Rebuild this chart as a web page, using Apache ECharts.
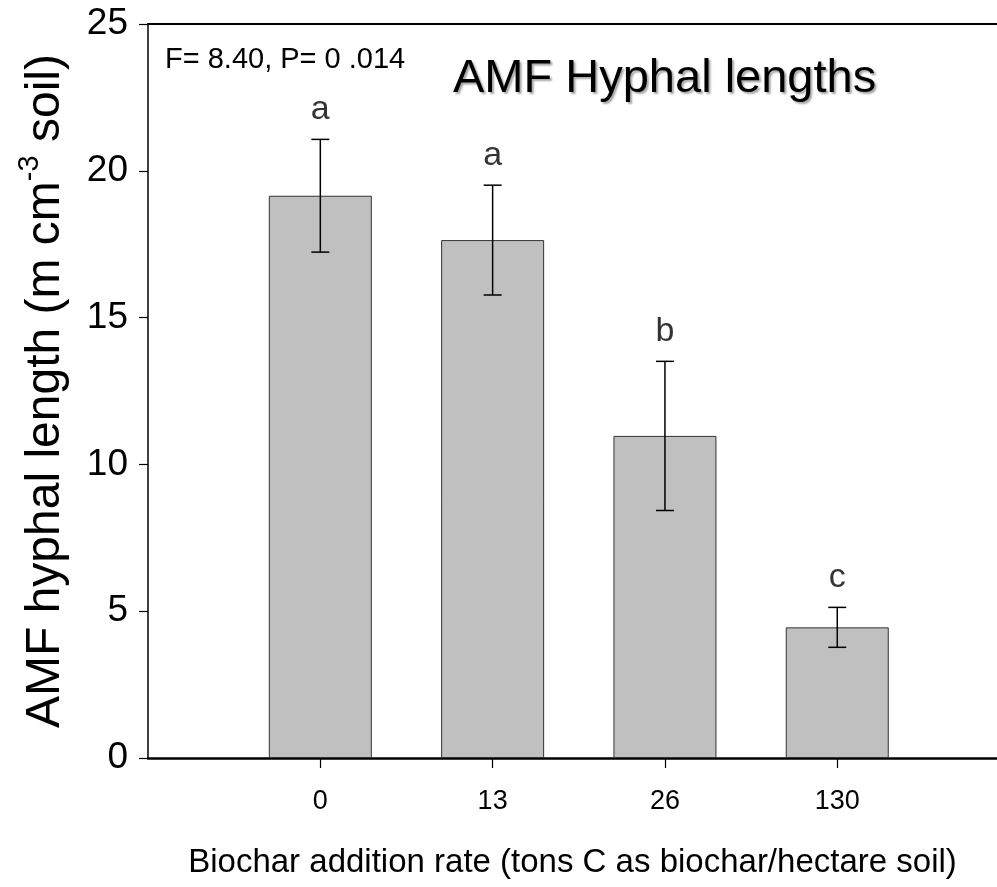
<!DOCTYPE html>
<html><head><meta charset="utf-8">
<script src="https://cdn.jsdelivr.net/npm/echarts@6/dist/echarts.min.js"></script>
<style>html,body{margin:0;padding:0;background:#fff}#c{width:997px;height:887px}</style>
</head><body><div id="c"></div>
<script>
// Data
const categories = ["0", "13", "26", "130"];
const positions = [1, 2, 3, 4];
const means = [19.15, 17.64, 10.97, 4.45];
const errors = [1.92, 1.87, 2.54, 0.68];
const letters = ["a", "a", "b", "c"];
const statText = "F= 8.40, P= 0 .014";
const titleText = "AMF Hyphal lengths";

const FONT = "'Liberation Sans', Arial, sans-serif";
const chart = echarts.init(document.getElementById('c'), null, {renderer: 'canvas'});

const barData = positions.map((p, i) => [p, means[i]]);
const errData = positions.map((p, i) => [p, means[i] - errors[i], means[i] + errors[i]]);
const letterData = positions.map((p, i) => [p, means[i] + errors[i], letters[i]]);

const option = {
  animation: false,
  backgroundColor: '#ffffff',
  title: [
    {text: statText, left: 160, top: 40,
     textStyle: {fontFamily: FONT, fontSize: 29, fontWeight: 'normal', color: '#000'}},
    {text: titleText, left: 448, top: 51,
     textStyle: {fontFamily: FONT, fontSize: 47, fontWeight: 'normal', color: '#000',
       textShadowColor: 'rgba(0,0,0,0.35)', textShadowOffsetX: 2, textShadowOffsetY: 2, textShadowBlur: 2}}
  ],
  grid: {left: 148, right: 0, top: 24, bottom: 129},
  xAxis: [
    {type: 'value', min: 0, max: 4.927, interval: 1, position: 'bottom',
     splitLine: {show: false},
     axisLine: {show: true, lineStyle: {color: '#000', width: 2.5}},
     axisTick: {show: true, customValues: positions, length: 10, lineStyle: {color: '#000', width: 1.2}},
     axisLabel: {customValues: positions, margin: 30, fontFamily: FONT, fontSize: 27, color: '#000',
       formatter: v => categories[positions.indexOf(v)] || ''},
     name: 'Biochar addition rate (tons C as biochar/hectare soil)',
     nameLocation: 'middle', nameGap: 88,
     nameTextStyle: {fontFamily: FONT, fontSize: 33, color: '#000'}},
    {type: 'value', min: 0, max: 4.927, position: 'top',
     splitLine: {show: false}, axisTick: {show: false}, axisLabel: {show: false},
     axisLine: {show: true, lineStyle: {color: '#000', width: 2}}}
  ],
  yAxis: {
    type: 'value', min: 0, max: 25, interval: 5,
    splitLine: {show: false},
    axisLine: {show: true, lineStyle: {color: '#000', width: 1.5}},
    axisTick: {show: true, length: 9, lineStyle: {color: '#000', width: 1.2}},
    axisLabel: {margin: 20, fontFamily: FONT, fontSize: 37, color: '#000'},
    name: 'AMF hyphal length (m cm{sup|-3} soil)',
    nameLocation: 'middle', nameGap: 71, nameRotate: 90,
    nameTextStyle: {fontFamily: FONT, fontSize: 48, color: '#000', lineHeight: 60,
      rich: {sup: {fontFamily: FONT, fontSize: 29, color: '#000', verticalAlign: 'top', lineHeight: 30}}}
  },
  series: [
    {type: 'bar', xAxisIndex: 0, data: barData, barWidth: 103,
     itemStyle: {color: '#c0c0c0', borderColor: '#333333', borderWidth: 1}},
    {type: 'custom', xAxisIndex: 0, data: errData, z: 5,
     renderItem: function (params, api) {
       const x = api.value(0);
       const lo = api.coord([x, api.value(1)]);
       const hi = api.coord([x, api.value(2)]);
       const cap = 9;
       const st = {stroke: '#000', lineWidth: 1.5};
       return {type: 'group', children: [
         {type: 'line', shape: {x1: lo[0], y1: lo[1], x2: hi[0], y2: hi[1]}, style: st},
         {type: 'line', shape: {x1: hi[0] - cap, y1: hi[1], x2: hi[0] + cap, y2: hi[1]}, style: st},
         {type: 'line', shape: {x1: lo[0] - cap, y1: lo[1], x2: lo[0] + cap, y2: lo[1]}, style: st}
       ]};
     }},
    {type: 'scatter', xAxisIndex: 0, data: letterData, symbolSize: 0, z: 6,
     label: {show: true, position: 'top', distance: 13, fontFamily: FONT, fontSize: 34, color: '#000',
       formatter: p => p.value[2]}}
  ]
};
chart.setOption(option);
</script></body></html>
